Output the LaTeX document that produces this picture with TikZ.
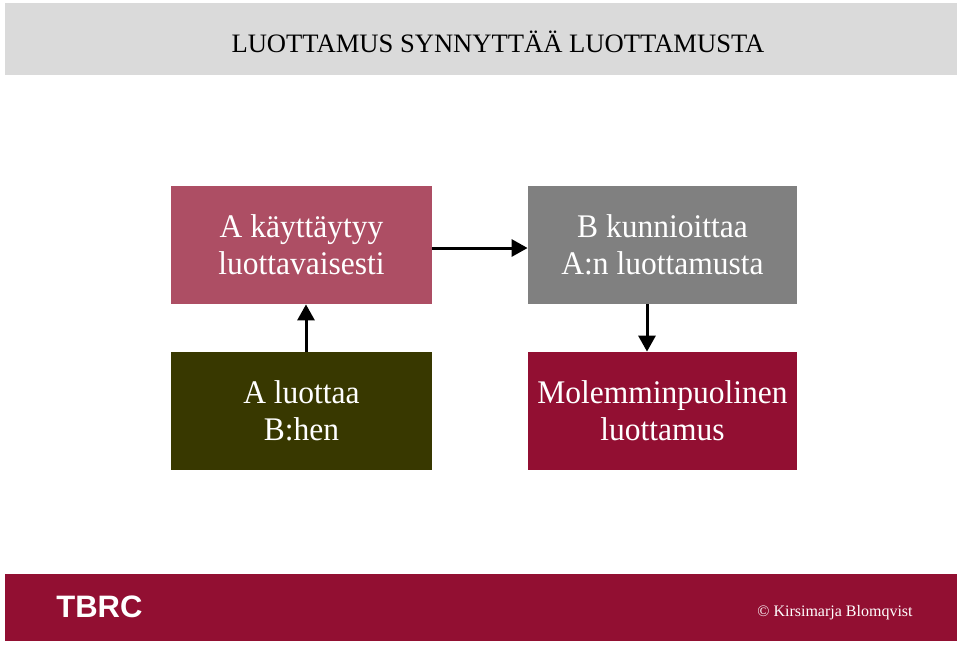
\documentclass[tikz,border=0pt]{standalone}
\usepackage{fontspec}
\setmainfont{Liberation Serif}
\newfontfamily\boxfont[FakeStretch=0.955]{Liberation Serif}
\newfontfamily\arialfont{Liberation Sans}
\usetikzlibrary{arrows.meta}
\definecolor{titlegray}{HTML}{DADADA}
\definecolor{rosec}{HTML}{AD4E64}
\definecolor{grayc}{HTML}{808080}
\definecolor{olivec}{HTML}{383800}
\definecolor{crimsonc}{HTML}{920F32}
\begin{document}
\begin{tikzpicture}[x=0.5pt,y=-0.5pt,
  boxstyle/.style={draw=none,minimum width=130.5pt,minimum height=59pt,inner sep=0pt,
     text=white,align=center,font=\boxfont\fontsize{16.5}{18.5}\selectfont},
  conn/.style={line width=1.5pt,-{Triangle[length=8pt,width=8.5pt]}}]
\useasboundingbox (0,0) rectangle (960,645);
\fill[white] (0,0) rectangle (960,645);
\fill[titlegray] (5,3) rectangle (957,75);
\node[font=\fontsize{13.3}{16}\selectfont] (title) at (498,42) {LUOTTAMUS SYNNYTTÄÄ LUOTTAMUSTA};
\node[boxstyle,fill=rosec,minimum width=130.5pt] (b1) at (301.5,245) {A käyttäytyy\\luottavaisesti};
\node[boxstyle,fill=grayc,minimum width=134.5pt] (b2) at (662.5,245) {B kunnioittaa\\A:n luottamusta};
\node[boxstyle,fill=olivec,minimum width=130.5pt] (b3) at (301.5,411) {A luottaa\\B:hen};
\node[boxstyle,fill=crimsonc,minimum width=134.5pt] (b4) at (662.5,411) {Molemminpuolinen\\luottamus};
\draw[conn] (b1.east |- 0,248) -- (b2.west |- 0,248);
\draw[conn] (b3.north -| 306,0) -- (b1.south -| 306,0);
\draw[conn] (b2.south -| 647,0) -- (b4.north -| 647,0);
\fill[crimsonc] (5,574) rectangle (957,641);
\node[anchor=west,text=white,font=\arialfont\bfseries\fontsize{15.5}{18}\selectfont,inner sep=0pt] (tbrc) at (56,607) {TBRC};
\node[anchor=east,text=white,font=\fontsize{8}{10}\selectfont,inner sep=0pt] (copy) at (913,613) {© Kirsimarja Blomqvist};
\end{tikzpicture}
\end{document}
